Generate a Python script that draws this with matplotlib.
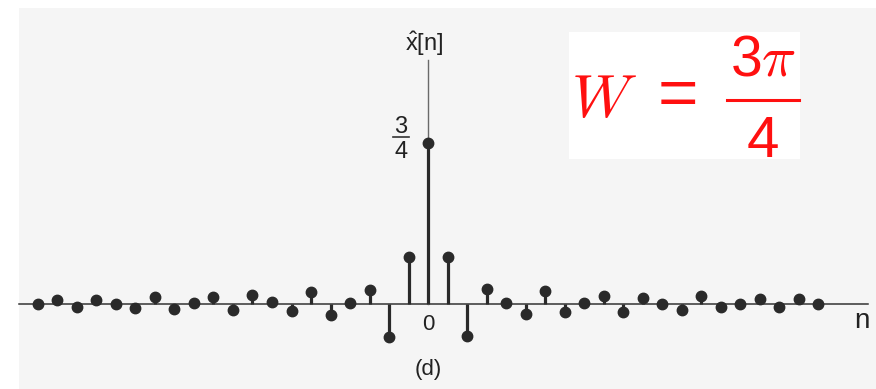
import numpy as np
import matplotlib
matplotlib.use("Agg")
import matplotlib.pyplot as plt
from matplotlib.patches import Rectangle

plt.rcParams['font.family'] = ['Liberation Sans', 'DejaVu Sans']
plt.rcParams['mathtext.fontset'] = 'custom'
plt.rcParams['mathtext.rm'] = 'Liberation Sans'

## samples (ideal lowpass, W = 3pi/4)
n = list(range(-20, 21))
x_hat = [0.0, 0.02, -0.015, 0.02, 0.0, -0.019, 0.031, -0.023, 0.004, 0.031,
         -0.027, 0.04, 0.01, -0.033, 0.057, -0.051, 0.005, 0.065, -0.152, 0.218,
         0.75,
         0.218, -0.149, 0.068, 0.005, -0.047, 0.061, -0.035, 0.005, 0.035, -0.035,
         0.03, 0.0, -0.027, 0.035, -0.016, 0.0, 0.024, -0.012, 0.024, 0.0]

W, H = 876, 389
# pixel layout of the scan
x0_px, dx_px = 428, 19.5
y0_px, dy_px = 304, 214.7

def fx(px):
    return px / W

def fy(py):
    return 1 - py / H

fig = plt.figure(figsize=(W / 100, H / 100), dpi=100)
fig.patch.set_facecolor('white')

ax = fig.add_axes([0, 0, 1, 1])
ax.set_zorder(1)
ax.set_facecolor('none')
ax.set_xlim(-x0_px / dx_px, (W - x0_px) / dx_px)
ax.set_ylim(-(H - y0_px) / dy_px, y0_px / dy_px)
ax.axis('off')

# scanned page background
ax.add_patch(Rectangle((fx(19), 0), 1 - fx(19), fy(8), transform=ax.transAxes,
                       facecolor='#f5f5f5', edgecolor='none', zorder=0))

ink = '#2a2a2a'
# axes lines
ax.plot([(19 - x0_px) / dx_px, (868 - x0_px) / dx_px], [0, 0], color='#333333', lw=1.1, zorder=1)
ax.plot([0, 0], [0, (y0_px - 60) / dy_px], color='#6a6a6a', lw=1.0, zorder=1)

# stems
ax.vlines(n, 0, x_hat, color=ink, lw=2.3, zorder=2)
ax.plot(n, x_hat, 'o', color=ink, ms=7.5, mec=ink, zorder=3)

# labels
fig.text(fx(424), fy(51), r'$\hat{\mathrm{x}}$[n]', fontsize=17, color='#222222',
         ha='center', va='baseline', zorder=3)
fig.text(fx(401), fy(133), '3', fontsize=17, color='#222222', ha='center', va='baseline', zorder=3)
fig.text(fx(401), fy(158), '4', fontsize=17, color='#222222', ha='center', va='baseline', zorder=3)
fig.add_artist(plt.Line2D([fx(393), fx(409)], [fy(137), fy(137)], color='#333333', lw=1.2, zorder=3))
fig.text(fx(428), fy(330), '0', fontsize=16, color='#222222', ha='center', va='baseline', zorder=3)
fig.text(fx(862), fy(328), 'n', fontsize=20, color='#222222', ha='center', va='baseline', zorder=3)
fig.text(fx(428), fy(369), '(d)', fontsize=16, color='#222222', ha='center', va='center', zorder=3)

# red annotation box
fig.patches.append(Rectangle((fx(569), fy(159)), fx(800) - fx(569), fy(32) - fy(159),
                             transform=fig.transFigure, facecolor='white', edgecolor='none', zorder=4))
red = '#ff1010'
fig.text(fx(571), fy(117), r'$W$', fontsize=44, color=red, ha='left', va='baseline',
         math_fontfamily='cm', zorder=5)
fig.text(fx(678), fy(98), '=', fontsize=50, color=red, ha='center', va='center', zorder=5)
fig.text(fx(763), fy(75), r'3$\pi$', fontsize=41, color=red, ha='center', va='baseline',
         math_fontfamily='cm', zorder=5)
fig.add_artist(plt.Line2D([fx(727), fx(799)], [fy(100), fy(100)], color=red, lw=2.2, zorder=5))
fig.text(fx(763), fy(157), '4', fontsize=42, color=red, ha='center', va='baseline', zorder=5)

fig.savefig('out.png', dpi=100, facecolor=fig.get_facecolor())
